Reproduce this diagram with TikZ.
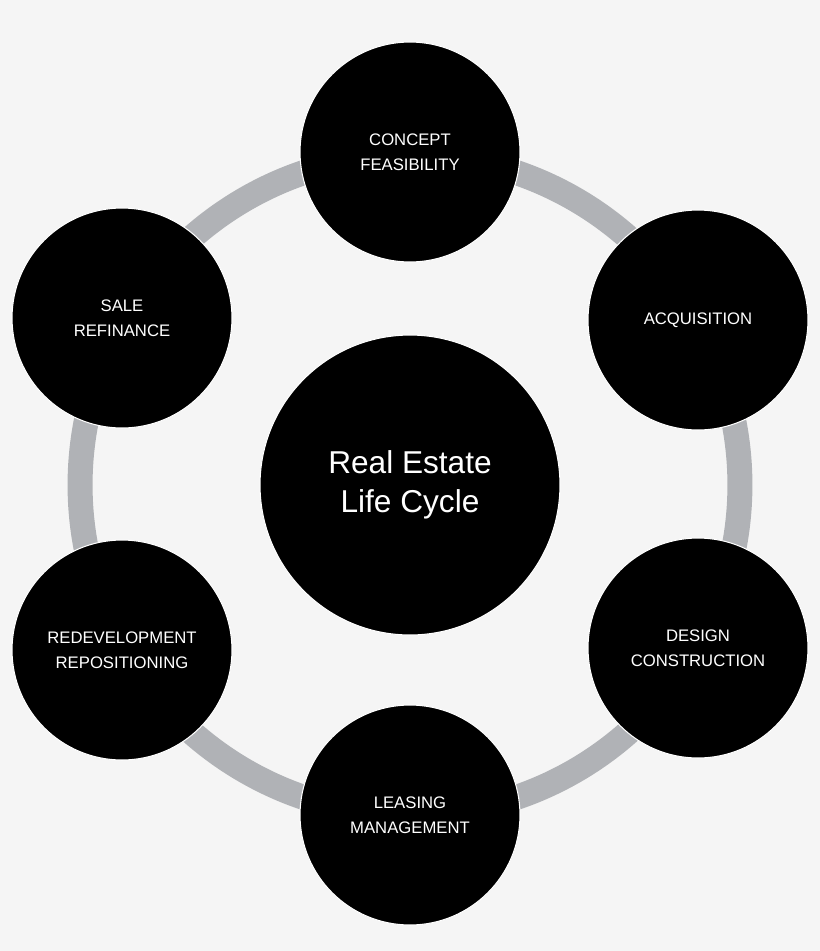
\documentclass[tikz,border=0pt]{standalone}
\usepackage{fontspec}
\setmainfont{Liberation Sans}
\begin{document}
\begin{tikzpicture}[x=0.02cm,y=-0.02cm,
  sat/.style={circle,fill=black,draw=white,line width=0.6pt,minimum size=4.4cm,inner sep=0pt,text=white,align=center,font=\fontsize{9.5}{14}\selectfont},
  hub/.style={circle,fill=black,draw=white,line width=0.6pt,minimum size=6cm,inner sep=0pt,text=white,align=center,font=\fontsize{18}{22}\selectfont}]
\fill[white!96!black] (0,0) rectangle (820,951);
\useasboundingbox (0,0) rectangle (820,951);
\coordinate (c) at (410,485);
\draw[color={rgb,255:red,176;green,178;blue,182},line width=0.5cm] (c) circle[radius=6.6cm];
\node[hub] (hub) at (c) {Real Estate\\Life Cycle};
\node[sat] (s1) at (410,152) {CONCEPT\\FEASIBILITY};
\node[sat] (s2) at (698,320) {ACQUISITION};
\node[sat] (s3) at (698,648) {DESIGN\\CONSTRUCTION};
\node[sat] (s4) at (410,815) {LEASING\\MANAGEMENT};
\node[sat] (s5) at (122,650) {REDEVELOPMENT\\REPOSITIONING};
\node[sat] (s6) at (122,318) {SALE\\REFINANCE};
\end{tikzpicture}
\end{document}
